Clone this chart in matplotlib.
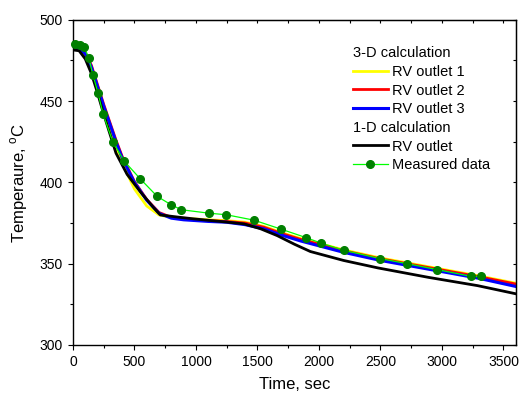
import matplotlib
matplotlib.use("Agg")
import matplotlib.pyplot as plt
from matplotlib.lines import Line2D
from matplotlib.ticker import MultipleLocator

plt.rcParams['font.family'] = ['Liberation Sans', 'DejaVu Sans']

# 3-D calculation (three RV outlets)
t_3d = [0, 50, 100, 150, 200, 250, 300, 350, 400, 500, 600, 700, 800, 900, 1000,
        1100, 1250, 1400, 1550, 1700, 1850, 2000, 2200, 2500, 2900, 3300, 3600]
rv1 = [483, 482, 478, 469, 457, 445, 433.5, 422, 412, 396, 385.5, 380, 378.5, 378, 377.5,
       377, 376.5, 375.5, 373, 369, 365.5, 362.5, 358.5, 353.5, 348, 342.5, 338]
rv2 = [483, 482.5, 479.5, 472, 460, 448, 437, 426, 416, 400.5, 389.5, 381.5, 378.5, 377.5, 377,
       376.5, 376, 375, 372.5, 368.5, 365, 362, 358, 353, 347.5, 342, 337.5]
rv3 = [483, 482.5, 479, 471, 459, 447, 436, 425, 415, 400, 389, 381, 378, 377, 376.5,
       376, 375.5, 374, 371.5, 367.5, 364, 361, 357, 352, 346.5, 341, 336]

# 1-D calculation
t_1d = [0, 50, 100, 150, 200, 250, 300, 350, 440, 550, 650, 710, 850, 980, 1250,
        1390, 1525, 1660, 1800, 1930, 2200, 2480, 2890, 3290, 3600]
rv_1d = [481.5, 481, 476, 467, 455, 442, 430, 418, 405, 394, 385, 380, 378.7, 377.6, 375.6,
         374.5, 371.5, 367.3, 362, 357.5, 352, 347.4, 341.6, 336.5, 331.5]

# measured data
t_meas = [16, 57, 90, 130, 163, 204, 245, 324, 418, 546, 685, 797, 881, 1104, 1248,
          1471, 1694, 1893, 2020, 2200, 2494, 2719, 2959, 3238, 3320]
y_meas = [485.2, 484.5, 483.5, 476.5, 466, 455, 442, 425, 413, 402.3, 391.4, 386.3, 383.2, 381.1, 380.1,
          376.8, 371.2, 366.1, 362.6, 358.3, 353.2, 350, 346.4, 342.2, 342.2]

fig = plt.figure(figsize=(5.21, 3.97), dpi=100)
ax = fig.add_axes([0.140, 0.131, 0.850, 0.819])

l1, = ax.plot(t_3d, rv1, color='#FFFF00', lw=2.0)
l2, = ax.plot(t_3d, rv2, color='#FF0000', lw=2.0)
l3, = ax.plot(t_3d, rv3, color='#0000FF', lw=2.2)
l4, = ax.plot(t_1d, rv_1d, color='black', lw=2.0)
l5, = ax.plot(t_meas, y_meas, color='#00FF00', lw=0.9, marker='o', ms=5.5,
              mfc='#008000', mec='#008000', clip_on=False, zorder=5)

ax.set_xlim(0, 3600)
ax.set_ylim(300, 500)
ax.xaxis.set_major_locator(MultipleLocator(500))
ax.xaxis.set_minor_locator(MultipleLocator(250))
ax.yaxis.set_major_locator(MultipleLocator(50))
ax.yaxis.set_minor_locator(MultipleLocator(25))
ax.tick_params(which='major', direction='out', length=3.6, width=0.8, labelsize=10, pad=3.5)
ax.tick_params(which='minor', direction='out', length=2.2, width=0.8)
for sp in ax.spines.values():
    sp.set_linewidth(1.0)

# mirrored ticks on top and right, pointing in
top = ax.secondary_xaxis('top')
top.xaxis.set_major_locator(MultipleLocator(250))
top.tick_params(direction='in', length=2.5, width=0.8, labeltop=False)
right = ax.secondary_yaxis('right')
right.yaxis.set_major_locator(MultipleLocator(25))
right.tick_params(direction='in', length=2.5, width=0.8, labelright=False)

ax.set_xlabel('Time, sec', fontsize=12, labelpad=6)
ax.set_ylabel('Temperaure, $^\\mathregular{o}$C', fontsize=12, labelpad=7)

blank = Line2D([], [], alpha=0)
handles = [blank, l1, l2, l3, blank, l4, l5]
labels = ['3-D calculation', 'RV outlet 1', 'RV outlet 2', 'RV outlet 3',
          '1-D calculation', 'RV outlet', 'Measured data']
leg = ax.legend(handles, labels, loc='upper left', bbox_to_anchor=(0.632, 0.919),
                frameon=False, fontsize=10.5, handlelength=2.4, handletextpad=0.3,
                borderpad=0, borderaxespad=0, labelspacing=0.32)

# header rows: drop the handle space so the text starts where the lines do
rows = leg._legend_handle_box.get_children()[0].get_children()
for i in (0, 4):
    rows[i].sep = 0
    rows[i].get_children()[0].width = 0

fig.savefig('out.png', dpi=100)
